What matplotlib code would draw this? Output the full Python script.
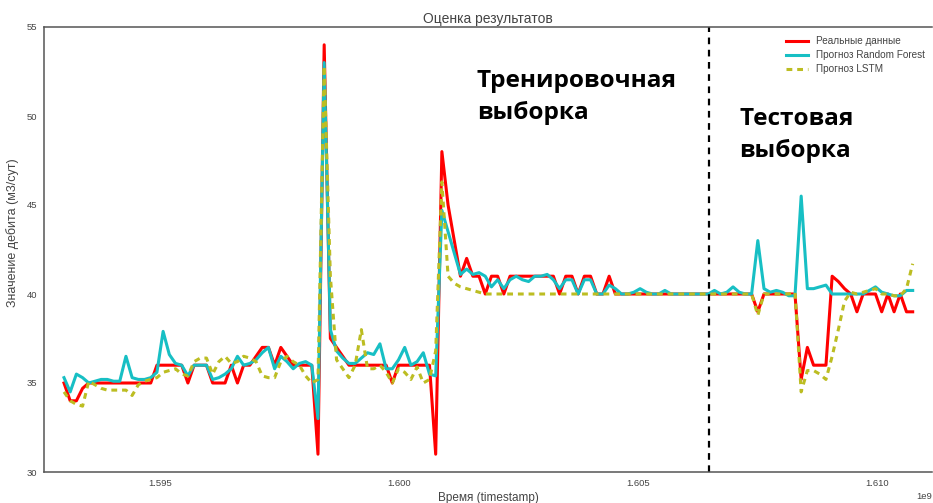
"""
plot.py
-------
Сравнение реального дебита с прогнозами Random Forest и LSTM
(тренировочная и тестовая выборки разделены пунктирной линией).
"""

import numpy as np
import matplotlib
matplotlib.use("Agg")
import matplotlib.pyplot as plt

# ── Data ──────────────────────────────────────────────────────────
t_start = 1592991600          # first timestamp, s
t_step = 129600               # sampling interval, s
split_time = 1606485000       # train / test boundary

real = [
    35, 34, 34, 34.7, 35, 35, 35, 35, 35, 35,
    35, 35, 35, 35, 35, 36, 36, 36, 36, 36,
    35, 36, 36, 36, 35, 35, 35, 36, 35, 36,
    36, 36.5, 37, 37, 36, 37, 36.5, 36, 36, 36,
    36, 31, 54, 37.5, 37, 36.5, 36, 36, 36, 36,
    36, 36, 36, 35, 36, 36, 36, 36, 36, 36,
    31, 48, 45, 43, 41, 42, 41, 41, 40, 41,
    41, 40, 41, 41, 41, 41, 41, 41, 41, 41,
    40, 41, 41, 40, 41, 41, 40, 40, 41, 40,
    40, 40, 40, 40, 40, 40, 40, 40, 40, 40,
    40, 40, 40, 40, 40, 40, 40, 40, 40, 40,
    40, 40, 39, 40, 40, 40, 40, 40, 40, 35.2,
    37, 36, 36, 36, 41, 40.7, 40.3, 40, 39, 40,
    40, 40, 39, 40, 39, 40, 39, 39,
]

rf_pred = [
    35.3, 34.5, 35.5, 35.3, 35.0, 35.1, 35.2, 35.2, 35.1, 35.1,
    36.5, 35.3, 35.2, 35.2, 35.3, 35.6, 37.9, 36.6, 36.1, 36.0,
    35.4, 36.0, 36.0, 36.0, 35.2, 35.3, 35.5, 35.8, 36.5, 36.0,
    36.1, 36.3, 36.7, 37.0, 35.8, 36.5, 36.2, 35.8, 36.1, 36.2,
    36.0, 33.0, 53.0, 38.0, 36.8, 36.4, 36.1, 36.1, 36.4, 36.7,
    36.6, 37.2, 35.8, 35.8, 36.3, 37.0, 36.0, 36.2, 36.7, 35.5,
    35.4, 44.7, 43.5, 42.3, 41.1, 41.4, 41.1, 41.2, 41.0, 40.4,
    40.8, 40.3, 40.8, 41.0, 40.8, 40.7, 41.0, 41.0, 41.1, 40.8,
    40.3, 40.8, 40.8, 40.0, 40.8, 40.8, 40.0, 40.0, 40.5, 40.3,
    40.0, 40.0, 40.1, 40.3, 40.1, 40.0, 40.0, 40.2, 40.0, 40.0,
    40.0, 40.0, 40.0, 40.0, 40.0, 40.2, 40.0, 40.1, 40.4, 40.1,
    40.0, 40.0, 43.0, 40.3, 40.1, 40.2, 40.1, 39.9, 39.9, 45.5,
    40.3, 40.3, 40.4, 40.5, 40.0, 40.0, 40.0, 40.0, 40.0, 40.0,
    40.2, 40.4, 40.1, 40.0, 39.9, 39.9, 40.2, 40.2,
]

lstm_pred = [
    34.5, 34.0, 33.8, 33.7, 35.1, 34.9, 34.7, 34.6, 34.6, 34.6,
    34.6, 34.3, 34.9, 35.1, 35.2, 35.3, 35.6, 35.7, 35.8, 35.5,
    35.4, 36.2, 36.4, 36.4, 35.5, 36.2, 36.5, 36.1, 36.2, 36.5,
    36.4, 36.2, 35.4, 35.3, 35.3, 36.2, 36.5, 36.2, 36.0, 35.4,
    35.0, 35.2, 52.8, 41.0, 36.3, 35.8, 35.3, 36.0, 38.0, 35.8,
    35.8, 36.0, 35.6, 35.0, 35.8, 35.6, 35.2, 35.9, 35.0, 35.2,
    36.8, 46.3, 41.0, 40.6, 40.4, 40.3, 40.2, 40.1, 40.0, 40.0,
    40.0, 40.0, 40.0, 40.0, 40.0, 40.0, 40.0, 40.0, 40.0, 40.0,
    40.0, 40.0, 40.0, 40.0, 40.0, 40.0, 40.0, 40.0, 40.0, 40.0,
    40.0, 40.0, 40.0, 40.0, 40.0, 40.0, 40.0, 40.0, 40.0, 40.0,
    40.0, 40.0, 40.0, 40.0, 40.0, 40.0, 40.0, 40.0, 40.0, 40.0,
    40.0, 40.0, 38.8, 40.0, 40.0, 40.0, 40.0, 40.0, 40.1, 34.5,
    35.7, 35.7, 35.5, 35.2, 36.5, 38.0, 39.6, 40.1, 40.0, 40.1,
    40.2, 40.3, 40.0, 40.0, 39.9, 39.9, 40.3, 41.7,
]

times = t_start + t_step * np.arange(len(real))

# ── Plot ──────────────────────────────────────────────────────────
plt.rcParams["font.family"] = ["Liberation Sans", "DejaVu Sans"]

fig = plt.figure(figsize=(9.33, 5.03), dpi=100)
ax = fig.add_axes([44 / 933, 31 / 503, 888 / 933, 445 / 503])

ax.plot(times, real, color="#ff0000", lw=2.2, label="Реальные данные")
ax.plot(times, rf_pred, color="#17bfc4", lw=2.2, label="Прогноз Random Forest")
ax.plot(times, lstm_pred, color="#bcbd22", lw=2.2, dashes=(1.9, 1.6),
        label="Прогноз LSTM")

# train / test boundary
ax.axvline(split_time, color="black", lw=1.6, ls=(0, (3, 2.5)))

ax.set_xlim(1592573200, 1611151000)
ax.set_ylim(30, 55)
ax.set_xticks([1.595e9, 1.600e9, 1.605e9, 1.610e9])
ax.set_yticks([30, 35, 40, 45, 50, 55])

ax.tick_params(length=0, labelsize=6.8, labelcolor="#444444", pad=5)
ax.xaxis.get_offset_text().set_fontsize(6.8)
ax.xaxis.get_offset_text().set_color("#444444")
for side in ["left", "bottom", "top"]:
    ax.spines[side].set_color("#555555")
    ax.spines[side].set_linewidth(1.1)
ax.spines["right"].set_visible(False)

ax.set_title("Оценка результатов", fontsize=10, color="#444444", pad=3)
ax.set_xlabel("Время (timestamp)", fontsize=8.5, color="#444444")
ax.set_ylabel("Значение дебита (м3/сут)", fontsize=9, color="#444444")
ax.xaxis.set_label_coords(0.501, -0.046)
ax.yaxis.set_label_coords(-0.028, 0.537)

ax.legend(loc="upper left", bbox_to_anchor=(0.8257, 1.0), frameon=False,
          fontsize=7.2, handlelength=2.2, labelspacing=0.4,
          labelcolor="#444444")

# region captions
ax.text(0.4876, 0.905, "Тренировочная\nвыборка", transform=ax.transAxes,
        family=["Open Sans", "DejaVu Sans"], fontweight="bold",
        fontsize=17.6, va="top", ha="left", linespacing=1.45)
ax.text(0.7827, 0.821, "Тестовая\nвыборка", transform=ax.transAxes,
        family=["Open Sans", "DejaVu Sans"], fontweight="bold",
        fontsize=17.6, va="top", ha="left", linespacing=1.45)

fig.savefig("out.png", dpi=100)
plt.close(fig)
